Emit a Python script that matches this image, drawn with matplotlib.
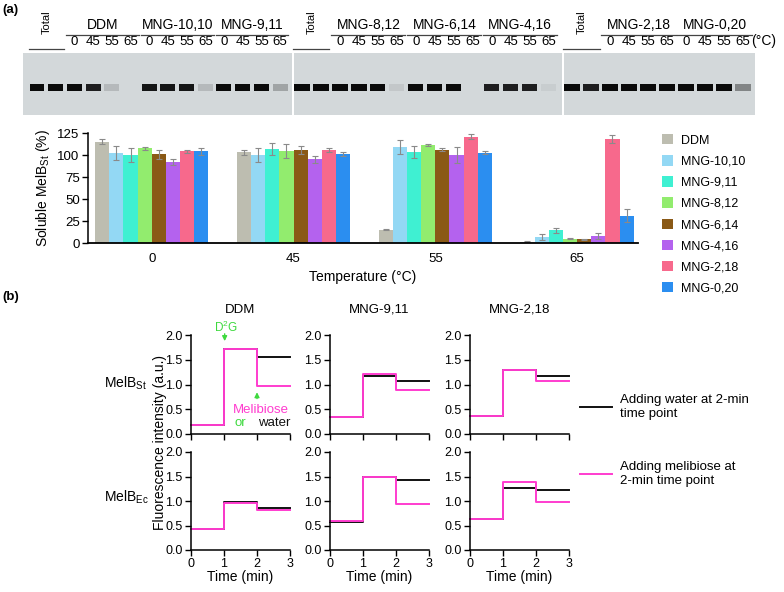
import numpy as np
import matplotlib.pyplot as plt

plt.rcParams['font.family'] = ['Liberation Sans', 'DejaVu Sans']
plt.rcParams['mathtext.fontset'] = 'custom'
plt.rcParams['mathtext.rm'] = 'Liberation Sans'
plt.rcParams['mathtext.it'] = 'Liberation Sans:italic'

W, H = 784, 592

# ---- data ----
detergents = ['DDM', 'MNG-10,10', 'MNG-9,11', 'MNG-8,12',
              'MNG-6,14', 'MNG-4,16', 'MNG-2,18', 'MNG-0,20']
det_colors = ['#bdbdb0', '#93d8f4', '#3ff0d2', '#92ec6e',
              '#8a5916', '#b462ee', '#f7698c', '#2b8ef0']
temps = ['0', '45', '55', '65']

# soluble MelBSt (%), rows = detergent, cols = temperature
soluble = np.array([
    [115, 103, 15, 1.5],
    [102, 99.6, 109, 6.8],
    [100, 107, 103.4, 14.4],
    [107.6, 104.5, 111.7, 5],
    [100.8, 106, 106, 4.2],
    [92, 95, 100.4, 8],
    [104, 106, 120.8, 118],
    [104.5, 100.8, 102.7, 31],
])
soluble_err = np.array([
    [3, 2.5, 0.5, 0.5],
    [8, 8, 8, 3.5],
    [8, 7, 7, 2.7],
    [1.5, 8, 1, 0.5],
    [5, 4.5, 2, 0.5],
    [3, 4, 9, 3.4],
    [1.5, 2.5, 2.7, 4.2],
    [4, 2.5, 2, 7.6],
])

# gel band darkness per lane (0 = none, 1 = full)
gel1_groups = ['DDM', 'MNG-10,10', 'MNG-9,11']
gel1_bands = [1, 1, 1, .9, .15, 0, .95, .95, .95, .15, 1, 1, 1, .25]
gel2_groups = ['MNG-8,12', 'MNG-6,14', 'MNG-4,16']
gel2_bands = [1, 1, 1, 1, 1, .08, 1, 1, 1, 0, .9, .9, .9, .05]
gel3_groups = ['MNG-2,18', 'MNG-0,20']
gel3_bands = [1, .9, 1, 1, 1, 1, 1, 1, 1, .4]

# fluorescence step levels: baseline, after D2G, after addition
time_pts = [0, 1, 2, 3]
trace_cols = ['DDM', 'MNG-9,11', 'MNG-2,18']
water_st = [[0.18, 1.72, 1.55], [0.35, 1.17, 1.08], [0.37, 1.30, 1.18]]
meli_st = [[0.18, 1.72, 0.97], [0.35, 1.22, 0.88], [0.37, 1.30, 1.08]]
water_ec = [[0.42, 0.98, 0.86], [0.57, 1.48, 1.42], [0.63, 1.27, 1.22]]
meli_ec = [[0.42, 0.96, 0.81], [0.60, 1.49, 0.93], [0.63, 1.38, 0.98]]

MAGENTA = '#ff3ccf'
GREEN = '#3fd93f'


def box(x0, y0, x1, y1):
    return [x0 / W, 1 - y1 / H, (x1 - x0) / W, (y1 - y0) / H]


fig = plt.figure(figsize=(7.84, 5.92), dpi=100)

fig.text(2 / W, 1 - 10 / H, '(a)', fontsize=9.5, fontweight='bold', va='center')
fig.text(2 / W, 1 - 297 / H, '(b)', fontsize=9.5, fontweight='bold', va='center')


# ---- gel ----
def draw_gel(rect, xlim, groups, bands, last=False):
    ax = fig.add_axes(rect)
    ax.set_facecolor('#d3d8da')
    lanes = np.arange(len(bands))
    cols = [(0.04, 0.04, 0.04, b) for b in bands]
    ax.bar(lanes, 0.12, bottom=0.38, width=0.8, color=cols)
    ax.set_xlim(*xlim)
    ax.set_ylim(0, 1)
    ax.set_xticks([])
    ax.set_yticks([])
    for s in ax.spines.values():
        s.set_visible(False)
    tr = ax.get_xaxis_transform()
    ax.text(0.5, 1.5, 'Total', rotation=90, fontsize=8, ha='center', va='center',
            transform=tr, clip_on=False)
    ax.plot([-0.45, 1.45], [1.07, 1.07], color='#444444', lw=0.9,
            transform=tr, clip_on=False)
    for g, name in enumerate(groups):
        first = 2 + 4 * g
        ax.text(first + 1.5, 1.45, name, fontsize=10, ha='center', va='center',
                transform=tr, clip_on=False)
        ax.plot([first - 0.45, first + 3.45], [1.29, 1.29], color='#444444', lw=0.9,
                transform=tr, clip_on=False)
        for k, t in enumerate(temps):
            ax.text(first + k, 1.08, t, fontsize=9.5, ha='center', va='bottom',
                    transform=tr, clip_on=False)
    if last:
        ax.text(len(bands) - 0.55, 1.08, '(\u00b0C)', fontsize=10, ha='left',
                va='bottom', transform=tr, clip_on=False)
    return ax


draw_gel(box(23, 53, 292, 115), (-0.75, 13.64), gel1_groups, gel1_bands)
draw_gel(box(294, 53, 562, 115), (-0.42, 13.7), gel2_groups, gel2_bands)
draw_gel(box(564, 53, 755, 115), (-0.42, 9.63), gel3_groups, gel3_bands, last=True)

# ---- bar chart ----
axb = fig.add_axes(box(88, 133, 638, 243))
x = np.arange(len(temps))
handles = []
for j, det in enumerate(detergents):
    bc = axb.bar(x + (j - 3.5) * 0.1, soluble[j], 0.1, color=det_colors[j],
                 yerr=soluble_err[j],
                 error_kw=dict(ecolor='#8a8a8a', elinewidth=0.8, capsize=2.2,
                               capthick=0.8), label=det)
    handles.append(bc)
axb.set_xlim(-0.45, 3.43)
axb.set_ylim(0, 125)
axb.set_yticks([0, 25, 50, 75, 100, 125])
axb.set_xticks(x)
axb.set_xticklabels(temps)
axb.tick_params(axis='x', length=0, pad=7, labelsize=9.5)
axb.tick_params(axis='y', length=4, width=1, labelsize=9.5, pad=2)
axb.spines['top'].set_visible(False)
axb.spines['right'].set_visible(False)
axb.spines['left'].set_linewidth(1.1)
axb.spines['bottom'].set_linewidth(1.3)
axb.set_xlabel('Temperature (\u00b0C)', fontsize=10, labelpad=4)
axb.set_ylabel('Soluble MelB$_{\\mathrm{St}}$ (%)', fontsize=10, labelpad=4)
axb.legend(handles=handles, labels=detergents, loc='upper left',
           bbox_to_anchor=(662 / W, 1 - 134 / H), bbox_transform=fig.transFigure,
           frameon=False, fontsize=9, handlelength=0.9, handleheight=0.9,
           handletextpad=0.6, labelspacing=0.69, borderpad=0, borderaxespad=0)

# ---- fluorescence traces ----
col_x = [191, 330, 470]
row_y = [(335, 434), (452, 550)]
water_rows = [water_st, water_ec]
meli_rows = [meli_st, meli_ec]
line_w = line_m = None
for r in range(2):
    for c in range(3):
        ax = fig.add_axes(box(col_x[c], row_y[r][0], col_x[c] + 99, row_y[r][1]))
        lw_ = water_rows[r][c]
        lm_ = meli_rows[r][c]
        line_w, = ax.step(time_pts, lw_ + [lw_[-1]], where='post', color='#111111',
                          lw=1.4, clip_on=False)
        line_m, = ax.step(time_pts, lm_ + [lm_[-1]], where='post', color=MAGENTA,
                          lw=1.4, clip_on=False)
        ax.set_xlim(0, 3)
        ax.set_ylim(0, 2)
        ax.set_xticks([0, 1, 2, 3])
        ax.set_yticks([0, 0.5, 1.0, 1.5, 2.0])
        ax.set_yticklabels(['0.0', '0.5', '1.0', '1.5', '2.0'])
        ax.tick_params(length=4, width=1, labelsize=9, pad=2)
        for s in ['top', 'right']:
            ax.spines[s].set_visible(False)
        for s in ['left', 'bottom']:
            ax.spines[s].set_linewidth(1.1)
        if r == 0:
            ax.set_xticklabels([])
            ax.set_title(trace_cols[c], fontsize=9.5, pad=16)
        else:
            ax.set_xlabel('Time (min)', fontsize=10, labelpad=0)
        if r == 0 and c == 0:
            ax.annotate('', xy=(1.02, 1.82), xytext=(1.02, 2.08),
                        arrowprops=dict(arrowstyle='-|>', color=GREEN, lw=1,
                                        mutation_scale=7), annotation_clip=False)
            ax.text(1.05, 2.16, 'D$^2$G', color=GREEN, fontsize=8.5, ha='center',
                    va='center', clip_on=False)
            ax.annotate('', xy=(2.0, 0.9), xytext=(2.0, 0.66),
                        arrowprops=dict(arrowstyle='-|>', color=GREEN, lw=1,
                                        mutation_scale=7), annotation_clip=False)
            ax.text(2.12, 0.49, 'Melibiose', color=MAGENTA, fontsize=9.5,
                    ha='center', va='center')
            ax.text(1.66, 0.22, 'or', color=GREEN, fontsize=9.5, ha='right',
                    va='center')
            ax.text(3.0, 0.22, 'water', color='#111111', fontsize=9.5, ha='right',
                    va='center')

fig.text(160 / W, 1 - 442 / H, 'Fluorescence intensity (a.u.)', rotation=90,
         fontsize=10, ha='center', va='center')
fig.text(104 / W, 1 - 383 / H, 'MelB$_{\\mathrm{St}}$', fontsize=10, ha='left',
         va='center')
fig.text(104 / W, 1 - 497 / H, 'MelB$_{\\mathrm{Ec}}$', fontsize=10, ha='left',
         va='center')

fig.legend(handles=[line_w], labels=['Adding water at 2-min\ntime point'],
           loc='upper left', bbox_to_anchor=(580 / W, 1 - 394 / H), frameon=False,
           fontsize=9.5, handlelength=2.4, handletextpad=0.6, borderpad=0,
           borderaxespad=0)
fig.legend(handles=[line_m], labels=['Adding melibiose at\n2-min time point'],
           loc='upper left', bbox_to_anchor=(580 / W, 1 - 461 / H), frameon=False,
           fontsize=9.5, handlelength=2.4, handletextpad=0.6, borderpad=0,
           borderaxespad=0)

fig.savefig('out.png', dpi=100)
